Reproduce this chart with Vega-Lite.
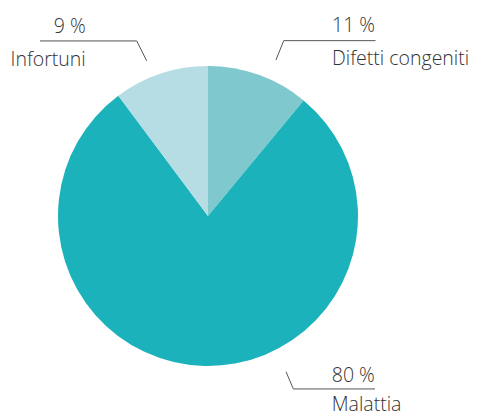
{
  "$schema": "https://vega.github.io/schema/vega-lite/v6.json",
  "width": 416,
  "height": 396,
  "autosize": {"type": "none"},
  "padding": {"left": 0, "top": 18, "right": 62, "bottom": 0},
  "background": "white",
  "config": {"view": {"stroke": null}},
  "datasets": {
    "slices": [
      {"category": "Difetti congeniti", "pct": 11, "order": 1},
      {"category": "Malattia", "pct": 78.8, "order": 2},
      {"category": "Infortuni", "pct": 10.2, "order": 3}
    ],
    "leaders": [
      {"category": "Infortuni", "seq": 1, "x": -1.12, "y": 1.167},
      {"category": "Infortuni", "seq": 2, "x": -0.475, "y": 1.167},
      {"category": "Infortuni", "seq": 3, "x": -0.409, "y": 1.035},
      {"category": "Difetti congeniti", "seq": 1, "x": 0.453, "y": 1.04},
      {"category": "Difetti congeniti", "seq": 2, "x": 0.505, "y": 1.169},
      {"category": "Difetti congeniti", "seq": 3, "x": 1.117, "y": 1.169},
      {"category": "Malattia", "seq": 1, "x": 0.52, "y": -1.038},
      {"category": "Malattia", "seq": 2, "x": 0.569, "y": -1.153},
      {"category": "Malattia", "seq": 3, "x": 1.113, "y": -1.153}
    ],
    "labels": [
      {"text": "9 %", "x": -0.815, "y": 1.22, "side": "right"},
      {"text": "Infortuni", "x": -0.815, "y": 1.002, "side": "right"},
      {"text": "11 %", "x": 0.827, "y": 1.227, "side": "left"},
      {"text": "Difetti congeniti", "x": 0.827, "y": 1.007, "side": "left"},
      {"text": "80 %", "x": 0.825, "y": -1.105, "side": "left"},
      {"text": "Malattia", "x": 0.825, "y": -1.3, "side": "left"}
    ]
  },
  "layer": [
    {
      "data": {"name": "slices"},
      "mark": {"type": "arc", "outerRadius": 150, "stroke": null},
      "encoding": {
        "theta": {"field": "pct", "type": "quantitative", "stack": true},
        "order": {"field": "order", "type": "quantitative"},
        "color": {
          "field": "category",
          "type": "nominal",
          "scale": {
            "domain": ["Difetti congeniti", "Malattia", "Infortuni"],
            "range": ["#7fc9ce", "#1cb2bb", "#b6dde3"]
          },
          "legend": null
        }
      }
    },
    {
      "data": {"name": "leaders"},
      "mark": {"type": "line", "color": "#555555", "strokeWidth": 1},
      "encoding": {
        "x": {"field": "x", "type": "quantitative", "scale": {"domain": [-1.3867, 1.3867], "nice": false, "zero": false}, "axis": null},
        "y": {"field": "y", "type": "quantitative", "scale": {"domain": [-1.32, 1.32], "nice": false, "zero": false}, "axis": null},
        "detail": {"field": "category"},
        "order": {"field": "seq", "type": "quantitative"}
      }
    },
    {
      "data": {"name": "labels"},
      "transform": [{"filter": {"field": "side", "equal": "left"}}],
      "mark": {"type": "text", "align": "left", "baseline": "alphabetic", "font": "Open Sans", "fontWeight": 300, "fontSize": 19.5, "color": "#333333"},
      "encoding": {
        "x": {"field": "x", "type": "quantitative"},
        "y": {"field": "y", "type": "quantitative"},
        "text": {"field": "text"}
      }
    },
    {
      "data": {"name": "labels"},
      "transform": [{"filter": {"field": "side", "equal": "right"}}],
      "mark": {"type": "text", "align": "right", "baseline": "alphabetic", "font": "Open Sans", "fontWeight": 300, "fontSize": 19.5, "color": "#333333"},
      "encoding": {
        "x": {"field": "x", "type": "quantitative"},
        "y": {"field": "y", "type": "quantitative"},
        "text": {"field": "text"}
      }
    }
  ]
}
